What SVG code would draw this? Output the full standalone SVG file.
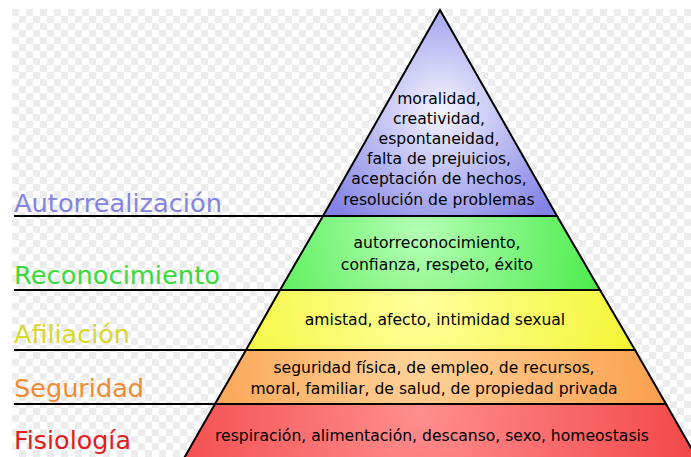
<svg xmlns="http://www.w3.org/2000/svg" width="691" height="457" viewBox="0 0 691 457">
<defs>
<pattern id="chk" x="12" y="9" width="14" height="14" patternUnits="userSpaceOnUse">
<rect width="14" height="14" fill="#ffffff"/>
<rect width="7" height="7" fill="#ececec"/>
<rect x="7" y="7" width="7" height="7" fill="#ececec"/>
</pattern>
<radialGradient id="gB" cx="440" cy="110" r="140" gradientUnits="userSpaceOnUse">
<stop offset="0" stop-color="#f4f4ff"/><stop offset="1" stop-color="#8484e6"/>
</radialGradient>
<radialGradient id="gG" cx="420" cy="235" r="200" gradientUnits="userSpaceOnUse">
<stop offset="0" stop-color="#b4ffb4"/><stop offset="1" stop-color="#44ea44"/>
</radialGradient>
<radialGradient id="gY" cx="420" cy="300" r="230" gradientUnits="userSpaceOnUse">
<stop offset="0" stop-color="#ffff9c"/><stop offset="1" stop-color="#f4f430"/>
</radialGradient>
<radialGradient id="gO" cx="420" cy="360" r="260" gradientUnits="userSpaceOnUse">
<stop offset="0" stop-color="#ffd39a"/><stop offset="1" stop-color="#fa9c48"/>
</radialGradient>
<radialGradient id="gR" cx="420" cy="410" r="290" gradientUnits="userSpaceOnUse">
<stop offset="0" stop-color="#ff8e8e"/><stop offset="1" stop-color="#f24444"/>
</radialGradient>
</defs>
<style>
.band{stroke:#000;stroke-width:2;stroke-linejoin:miter}
.sep{stroke:#000;stroke-width:2;fill:none}
.lab{font-family:"DejaVu Sans",sans-serif;font-size:24px}
.t{font-family:"DejaVu Sans",sans-serif;font-size:15.6px;fill:#000;text-anchor:middle}
</style>
<rect x="12" y="9" width="679" height="448" fill="url(#chk)"/>
<g id="connectors">
<line class="sep" x1="14" y1="216" x2="323" y2="216"/>
<line class="sep" x1="14" y1="290" x2="280" y2="290"/>
<line class="sep" x1="14" y1="350" x2="246" y2="350"/>
<line class="sep" x1="14" y1="404" x2="215" y2="404"/>
</g>
<g id="fisiologia">
<polygon class="band" points="215,404 666,404 698,460 183,460" fill="url(#gR)"/>
<text class="t" x="432" y="441">respiración, alimentación, descanso, sexo, homeostasis</text>
<text class="lab" x="14" y="449" fill="#e01c1c" textLength="117" lengthAdjust="spacingAndGlyphs">Fisiología</text>
</g>
<g id="seguridad">
<polygon class="band" points="246,350 635,350 666,404 215,404" fill="url(#gO)"/>
<text class="t" x="434" y="373">seguridad física, de empleo, de recursos,</text>
<text class="t" x="434" y="394">moral, familiar, de salud, de propiedad privada</text>
<text class="lab" x="14" y="397" fill="#f08a30" textLength="130" lengthAdjust="spacingAndGlyphs">Seguridad</text>
</g>
<g id="afiliacion">
<polygon class="band" points="280,290 600,290 635,350 246,350" fill="url(#gY)"/>
<text class="t" x="435" y="325">amistad, afecto, intimidad sexual</text>
<text class="lab" x="14" y="343" fill="#d8d82c" textLength="116" lengthAdjust="spacingAndGlyphs">Afiliación</text>
</g>
<g id="reconocimiento">
<polygon class="band" points="323,216 557,216 600,290 280,290" fill="url(#gG)"/>
<text class="t" x="437" y="248">autorreconocimiento,</text>
<text class="t" x="437" y="270">confianza, respeto, éxito</text>
<text class="lab" x="14" y="284" fill="#3ada3a" textLength="206" lengthAdjust="spacingAndGlyphs">Reconocimiento</text>
</g>
<g id="autorrealizacion">
<polygon class="band" points="440,10 557,216 323,216" fill="url(#gB)"/>
<text class="t" x="439" y="104">moralidad,</text>
<text class="t" x="439" y="124">creatividad,</text>
<text class="t" x="439" y="144">espontaneidad,</text>
<text class="t" x="439" y="164">falta de prejuicios,</text>
<text class="t" x="439" y="184">aceptación de hechos,</text>
<text class="t" x="439" y="205">resolución de problemas</text>
<text class="lab" x="14" y="212" fill="#8484dc" textLength="208" lengthAdjust="spacingAndGlyphs">Autorrealización</text>
</g>
</svg>
